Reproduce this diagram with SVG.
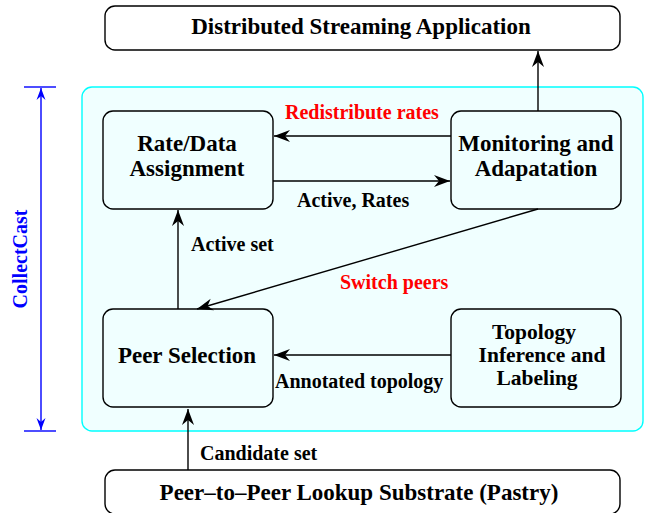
<svg xmlns="http://www.w3.org/2000/svg" width="648" height="513" viewBox="0 0 648 513">
<defs>
<marker id="ah" markerWidth="18" markerHeight="14" viewBox="-17 -7 18 14" refX="0" refY="0" orient="auto" markerUnits="userSpaceOnUse">
<path d="M0,0 L-16,-6 L-11,0 L-16,6 Z" fill="#000"/>
</marker>
<marker id="bh" markerWidth="14" markerHeight="10" viewBox="-13 -5 14 10" refX="0" refY="0" orient="auto" markerUnits="userSpaceOnUse">
<path d="M0,0 L-12,-4.5 L-8,0 L-12,4.5 Z" fill="#0000ff"/>
</marker>
<style>
.box{fill:none;stroke:#000;stroke-width:1.4}
.wbox{fill:#fff;stroke:#000;stroke-width:1.4}
.t{font-family:"Liberation Serif","Times New Roman",serif;font-weight:bold;font-size:23px;fill:#000;text-anchor:middle}
.tt{font-size:21.5px}
.l{font-family:"Liberation Serif","Times New Roman",serif;font-weight:bold;font-size:20px;fill:#000}
.red{fill:#ff0000}
.c{stroke:#000;stroke-width:1.4;fill:none;marker-end:url(#ah)}
</style>
</defs>
<rect width="648" height="513" fill="#fff"/>
<g id="collectcast">
<rect x="82" y="87" width="561" height="344" rx="10" fill="#f0ffff" stroke="#00ffff" stroke-width="1.4"/>
<line x1="24" y1="87" x2="56" y2="87" stroke="#0000ff" stroke-width="1.4"/>
<line x1="24" y1="431" x2="56" y2="431" stroke="#0000ff" stroke-width="1.4"/>
<line x1="41" y1="259" x2="41" y2="88" stroke="#0000ff" stroke-width="1.4" marker-end="url(#bh)"/>
<line x1="41" y1="259" x2="41" y2="430" stroke="#0000ff" stroke-width="1.4" marker-end="url(#bh)"/>
<text transform="translate(27,259) rotate(-90)" style="font-family:'Liberation Serif','Times New Roman',serif;font-weight:bold;font-size:20px;fill:#0000ff;text-anchor:middle">CollectCast</text>
</g>
<g id="app">
<rect class="wbox" x="105" y="6" width="515" height="44" rx="10"/>
<text class="t" x="361" y="34">Distributed Streaming Application</text>
</g>
<g id="substrate">
<rect class="wbox" x="105" y="470" width="515" height="44" rx="10"/>
<text class="t" x="359" y="500">Peer–to–Peer Lookup Substrate (Pastry)</text>
</g>
<g id="rate">
<rect class="box" x="103" y="111" width="170" height="98" rx="10"/>
<text class="t" x="187" y="151">Rate/Data</text>
<text class="t" x="187" y="176">Assignment</text>
</g>
<g id="monitor">
<rect class="box" x="451" y="111" width="170" height="98" rx="10"/>
<text class="t" x="536" y="151">Monitoring and</text>
<text class="t" x="536" y="176">Adapatation</text>
</g>
<g id="peersel">
<rect class="box" x="103" y="309" width="170" height="98" rx="10"/>
<text class="t" x="187" y="363">Peer Selection</text>
</g>
<g id="topology">
<rect class="box" x="451" y="309" width="170" height="98" rx="10"/>
<text class="t tt" x="534" y="339">Topology</text>
<text class="t tt" x="542" y="362">Inference and</text>
<text class="t tt" x="537" y="385">Labeling</text>
</g>
<g id="connectors">
<line class="c" x1="538" y1="111" x2="538" y2="51"/>
<line class="c" x1="451" y1="136" x2="274" y2="136"/>
<line class="c" x1="273" y1="181" x2="450" y2="181"/>
<line class="c" x1="178" y1="309" x2="178" y2="210"/>
<line class="c" x1="538" y1="209" x2="197" y2="309"/>
<line class="c" x1="451" y1="355" x2="274" y2="355"/>
<line class="c" x1="188" y1="470" x2="188" y2="409"/>
<text class="l red" x="285" y="119">Redistribute rates</text>
<text class="l" x="297" y="207">Active, Rates</text>
<text class="l" x="191" y="251">Active set</text>
<text class="l red" x="340" y="289">Switch peers</text>
<text class="l" x="275" y="388">Annotated topology</text>
<text class="l" x="200" y="460">Candidate set</text>
</g>
</svg>
